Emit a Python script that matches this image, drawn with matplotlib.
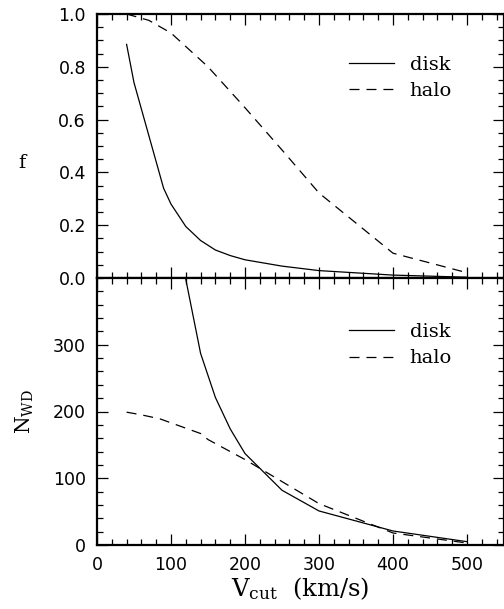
import numpy as np
import matplotlib
matplotlib.use('Agg')
import matplotlib.pyplot as plt
from matplotlib.ticker import MultipleLocator, FormatStrFormatter

# 數據
v_disk_f = [40, 50, 90, 100, 120, 140, 160, 180, 200, 250, 300, 400, 500]
f_disk = [0.885, 0.74, 0.34, 0.28, 0.195, 0.142, 0.106, 0.085, 0.069, 0.045, 0.028, 0.011, 0.003]

v_halo_f = [40, 70, 100, 150, 200, 250, 300, 400, 500]
f_halo = [1.0, 0.976, 0.928, 0.80, 0.645, 0.485, 0.322, 0.094, 0.02]

v_disk_n = [120, 140, 160, 180, 200, 250, 300, 400, 500]
n_disk = [398, 287, 221, 174, 137, 82, 51, 21, 5]

v_halo_n = [40, 60, 85, 100, 140, 150, 200, 250, 300, 350, 400, 500]
n_halo = [199, 195, 189, 183, 167, 158, 128, 95, 62, 40, 18, 3]

plt.rcParams['mathtext.fontset'] = 'dejavuserif'
plt.rcParams['lines.scale_dashes'] = False

fig = plt.figure(figsize=(5.04, 6.09), dpi=100)
left, right = 97 / 504, 1.0
ax1 = fig.add_axes([left, 1 - 278 / 609, right - left, 264 / 609])
ax2 = fig.add_axes([left, 1 - 545 / 609, right - left, 267 / 609])

dash = (0, (7.2, 5.0))
ax1.plot(v_disk_f, f_disk, color='black', lw=0.9, label='disk')
ax1.plot(v_halo_f, f_halo, color='black', lw=0.9, linestyle=dash, label='halo')
ax2.plot(v_disk_n, n_disk, color='black', lw=0.9, label='disk')
ax2.plot(v_halo_n, n_halo, color='black', lw=0.9, linestyle=dash, label='halo')

ax1.set_ylim(0, 1)
ax2.set_ylim(0, 400)
for ax in (ax1, ax2):
    ax.set_xlim(0, 550)
    ax.xaxis.set_major_locator(MultipleLocator(100))
    ax.xaxis.set_minor_locator(MultipleLocator(20))
    ax.tick_params(which='both', direction='in', top=True, right=True, width=0.9, pad=8)
    ax.tick_params(which='major', length=8)
    ax.tick_params(which='minor', length=4)
    for s in ax.spines.values():
        s.set_linewidth(1.6)
    ax.legend(loc='center left', frameon=False, borderpad=0, borderaxespad=0,
              handlelength=2.3, handletextpad=0.8, labelspacing=0.45,
              prop={'family': 'DejaVu Serif', 'size': 14})

ax1.legend_.set_bbox_to_anchor((0.62, 0.758))
ax2.legend_.set_bbox_to_anchor((0.62, 0.749))

ax1.yaxis.set_major_locator(MultipleLocator(0.2))
ax1.yaxis.set_minor_locator(MultipleLocator(0.05))
ax1.yaxis.set_major_formatter(FormatStrFormatter('%.1f'))
ax1.tick_params(labelbottom=False)

ax2.yaxis.set_major_locator(MultipleLocator(100))
ax2.yaxis.set_minor_locator(MultipleLocator(20))
ax2.set_yticks([0, 100, 200, 300])

for ax in (ax1, ax2):
    for lab in ax.get_xticklabels() + ax.get_yticklabels():
        lab.set_fontsize(12.5)

fig.text(22 / 504, 1 - 163 / 609, 'f', family='DejaVu Serif', fontsize=14,
         ha='center', va='center')
fig.text(25 / 504, 1 - 411.5 / 609, r'$\mathrm{N_{WD}}$', fontsize=14.5,
         ha='center', va='center', rotation=90)
fig.text(300 / 504, 1 - 596 / 609, r'$\mathrm{V_{cut}}\ \ \mathrm{(km/s)}$', fontsize=17.5,
         ha='center', va='baseline')

fig.savefig('out.png', dpi=100)
